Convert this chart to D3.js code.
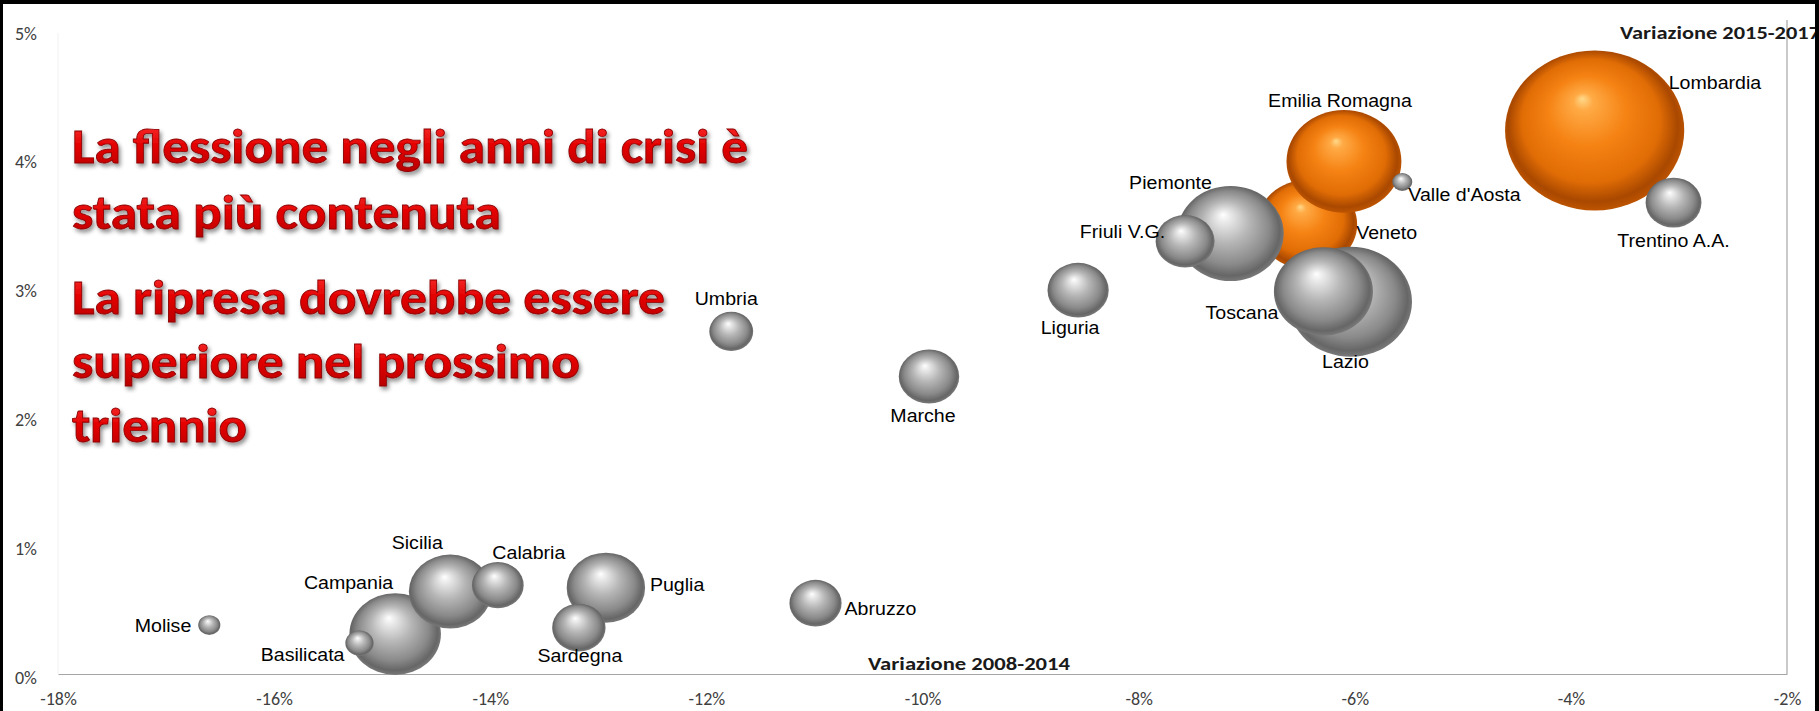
<!DOCTYPE html>
<html>
<head>
<meta charset="utf-8">
<script src="https://cdn.jsdelivr.net/npm/d3@7"></script>
<style>
  html, body { margin: 0; padding: 0; background: #fff; }
  svg { display: block; }
</style>
</head>
<body>
<div id="chart"></div>
<script>

// regions, in the order the bubbles are painted (later ones sit on top)
const regions = ["Lombardia", "Veneto", "Emilia Romagna", "Lazio", "Piemonte", "Toscana",
  "Friuli V.G.", "Valle d'Aosta", "Trentino A.A.", "Liguria", "Marche", "Umbria",
  "Abruzzo", "Campania", "Sicilia", "Puglia", "Calabria", "Sardegna", "Basilicata", "Molise"];

// x: Variazione 2008-2014, y: Variazione 2015-2017 (fractions)
const var0814 = [-0.0378, -0.0644, -0.0610, -0.0604, -0.0715, -0.0629,
  -0.0757, -0.0556, -0.0305, -0.0856, -0.0994, -0.1177,
  -0.1099, -0.1488, -0.1437, -0.1293, -0.1393, -0.1318, -0.1521, -0.1660];
const var1517 = [0.0422, 0.0349, 0.0398, 0.0289, 0.0342, 0.0297,
  0.0336, 0.0382, 0.0366, 0.0298, 0.0231, 0.0266,
  0.0055, 0.0031, 0.0064, 0.0067, 0.0069, 0.0036, 0.0024, 0.0038];
// bubble size (area)
const sizes = [360, 112, 148, 170, 127, 110,
  39, 4.5, 35, 42, 41, 21.6,
  30.5, 94, 77, 69, 30, 32, 9, 5.5];

const orangeRegions = ["Lombardia", "Emilia Romagna", "Veneto"];

const xTicks = [-0.18, -0.16, -0.14, -0.12, -0.10, -0.08, -0.06, -0.04, -0.02];
const yTicks = [0, 0.01, 0.02, 0.03, 0.04, 0.05];

const xTitle = "Variazione 2008-2014";
const yTitle = "Variazione 2015-2017";
const messageLines = ["La flessione negli anni di crisi è", "stata più contenuta",
  "La ripresa dovrebbe essere", "superiore nel prossimo", "triennio"];

// label placement around each bubble: [dx, dy, anchor]
const labelPlace = {
  "Lombardia": [74, -48, "start"],
  "Emilia Romagna": [-4, -61, "middle"],
  "Valle d'Aosta": [6, 13, "start"],
  "Veneto": [49, 8, "start"],
  "Piemonte": [-60, -51, "middle"],
  "Friuli V.G.": [-20, -9, "end"],
  "Toscana": [-45, 21, "end"],
  "Lazio": [-5, 60, "middle"],
  "Liguria": [-8, 38, "middle"],
  "Trentino A.A.": [0, 38, "middle"],
  "Umbria": [-5, -33, "middle"],
  "Marche": [-6, 39, "middle"],
  "Abruzzo": [29, 6, "start"],
  "Puglia": [44, -3, "start"],
  "Calabria": [31, -32, "middle"],
  "Sicilia": [-33, -49, "middle"],
  "Campania": [-2, -51, "end"],
  "Molise": [-18, 1, "end"],
  "Basilicata": [-15, 12, "end"],
  "Sardegna": [1, 28, "middle"]
};

const W = 1819, H = 711;

const svg = d3.select('#chart').append('svg')
    .attr('width', W)
    .attr('height', H);

const x = d3.scaleLinear().domain([-0.18, -0.02]).range([58, 1787]);
const y = d3.scaleLinear().domain([0, 0.05]).range([674, 30]);
const rScale = d3.scaleSqrt().domain([0, 360]).range([0, 80]);
const stretch = 1.12;

const pct = d => Math.round(d * 100) + "%";

const defs = svg.append("defs");

function sphere(id, stops) {
    const g = defs.append("radialGradient")
        .attr("id", id)
        .attr("cx", 0.5).attr("cy", 0.5).attr("r", 0.55)
        .attr("fx", 0.43).attr("fy", 0.3);
    stops.forEach(s => g.append("stop").attr("offset", s[0]).attr("stop-color", s[1]));
}
sphere("grey-ball", [[0, "#ffffff"], [0.1, "#ececec"], [0.4, "#b6b6b6"], [0.7, "#8a8a8a"], [0.86, "#666666"], [1, "#8a8a8a"]]);
sphere("orange-ball", [[0, "#ffd98a"], [0.1, "#ffaa45"], [0.4, "#f58213"], [0.7, "#e06c05"], [0.86, "#a94800"], [1, "#d06000"]]);

const redFill = defs.append("linearGradient")
    .attr("id", "red-text")
    .attr("x1", 0).attr("y1", 0).attr("x2", 0).attr("y2", 1);
redFill.append("stop").attr("offset", "0%").attr("stop-color", "#ff3a3a");
redFill.append("stop").attr("offset", "50%").attr("stop-color", "#e30000");
redFill.append("stop").attr("offset", "100%").attr("stop-color", "#b00000");

const shadow = defs.append("filter").attr("id", "text-shadow")
    .attr("x", "-5%").attr("y", "-20%").attr("width", "115%").attr("height", "160%");
shadow.append("feDropShadow")
    .attr("dx", 2).attr("dy", 3).attr("stdDeviation", 2)
    .attr("flood-color", "#000").attr("flood-opacity", 0.45);

// plot frame
svg.append("line")
    .attr("x1", 58).attr("x2", 58).attr("y1", 33).attr("y2", 674)
    .attr("stroke", "#f0f0f0");
svg.append("line")
    .attr("x1", 1787).attr("x2", 1787).attr("y1", 20).attr("y2", 674)
    .attr("stroke", "#a6a6a6").attr("stroke-width", 1.2);

// axes
const xAxis = svg.append("g")
    .attr("transform", "translate(0,674)")
    .call(d3.axisBottom(x).tickValues(xTicks).tickFormat(pct).tickSize(0).tickSizeOuter(0).tickPadding(18));
xAxis.select(".domain").attr("stroke", "#a6a6a6").attr("stroke-width", 1.2);
xAxis.selectAll("text")
    .attr("font-family", "Carlito, 'Liberation Sans', Arial, sans-serif")
    .attr("font-size", 18)
    .attr("fill", "#404040");

const yAxis = svg.append("g")
    .attr("transform", "translate(58,0)")
    .call(d3.axisLeft(y).tickValues(yTicks).tickFormat(pct).tickSize(0).tickPadding(21));
yAxis.select(".domain").remove();
yAxis.selectAll("text")
    .attr("dy", "0.5em")
    .attr("font-family", "Carlito, 'Liberation Sans', Arial, sans-serif")
    .attr("font-size", 18)
    .attr("fill", "#404040");

// axis titles
svg.append("text")
    .attr("x", 868).attr("y", 670)
    .attr("font-family", "Carlito, 'Liberation Sans', Arial, sans-serif")
    .attr("font-weight", "bold").attr("font-size", 17)
    .attr("textLength", 202).attr("lengthAdjust", "spacingAndGlyphs")
    .attr("fill", "#1a1a1a")
    .text(xTitle);
svg.append("text")
    .attr("x", 1620).attr("y", 39)
    .attr("font-family", "Carlito, 'Liberation Sans', Arial, sans-serif")
    .attr("font-weight", "bold").attr("font-size", 17)
    .attr("textLength", 200).attr("lengthAdjust", "spacingAndGlyphs")
    .attr("fill", "#1a1a1a")
    .text(yTitle);

// bubbles
const data = regions.map((name, i) => ({ name, vx: var0814[i], vy: var1517[i], size: sizes[i] }));

svg.append("g").selectAll("ellipse")
    .data(data)
    .join("ellipse")
    .attr("cx", d => x(d.vx))
    .attr("cy", d => y(d.vy))
    .attr("rx", d => rScale(d.size) * stretch)
    .attr("ry", d => rScale(d.size))
    .attr("fill", d => orangeRegions.includes(d.name) ? "url(#orange-ball)" : "url(#grey-ball)");

// bubble labels
svg.append("g").selectAll("text")
    .data(data)
    .join("text")
    .attr("transform", d => {
        const p = labelPlace[d.name];
        return `translate(${x(d.vx) + p[0]},${y(d.vy) + p[1]}) scale(${stretch},1)`;
    })
    .attr("dy", "0.35em")
    .attr("text-anchor", d => labelPlace[d.name][2])
    .attr("font-family", "'Liberation Sans', Arial, sans-serif")
    .attr("font-size", 17.5)
    .attr("fill", "#000")
    .text(d => d.name);

// red message
const lineY = [163, 229, 314, 378, 442];
const lineW = [676, 429, 593, 508, 175];
svg.append("g")
    .attr("filter", "url(#text-shadow)")
    .selectAll("text")
    .data(messageLines)
    .join("text")
    .attr("x", 72)
    .attr("y", (d, i) => lineY[i])
    .attr("textLength", (d, i) => lineW[i])
    .attr("lengthAdjust", "spacingAndGlyphs")
    .attr("font-family", "Carlito, 'Liberation Sans Narrow', Lato, sans-serif")
    .attr("font-weight", "bold")
    .attr("font-size", 48)
    .attr("fill", "url(#red-text)")
    .attr("stroke", "#8a0000")
    .attr("stroke-width", 0.8)
    .text(d => d);

// black outer frame
svg.append("rect").attr("x", 0).attr("y", 0).attr("width", W).attr("height", 4).attr("fill", "#000");
svg.append("rect").attr("x", 0).attr("y", 0).attr("width", 3).attr("height", H).attr("fill", "#000");
svg.append("rect").attr("x", 1815).attr("y", 0).attr("width", 4).attr("height", H).attr("fill", "#000");

</script>
</body>
</html>
